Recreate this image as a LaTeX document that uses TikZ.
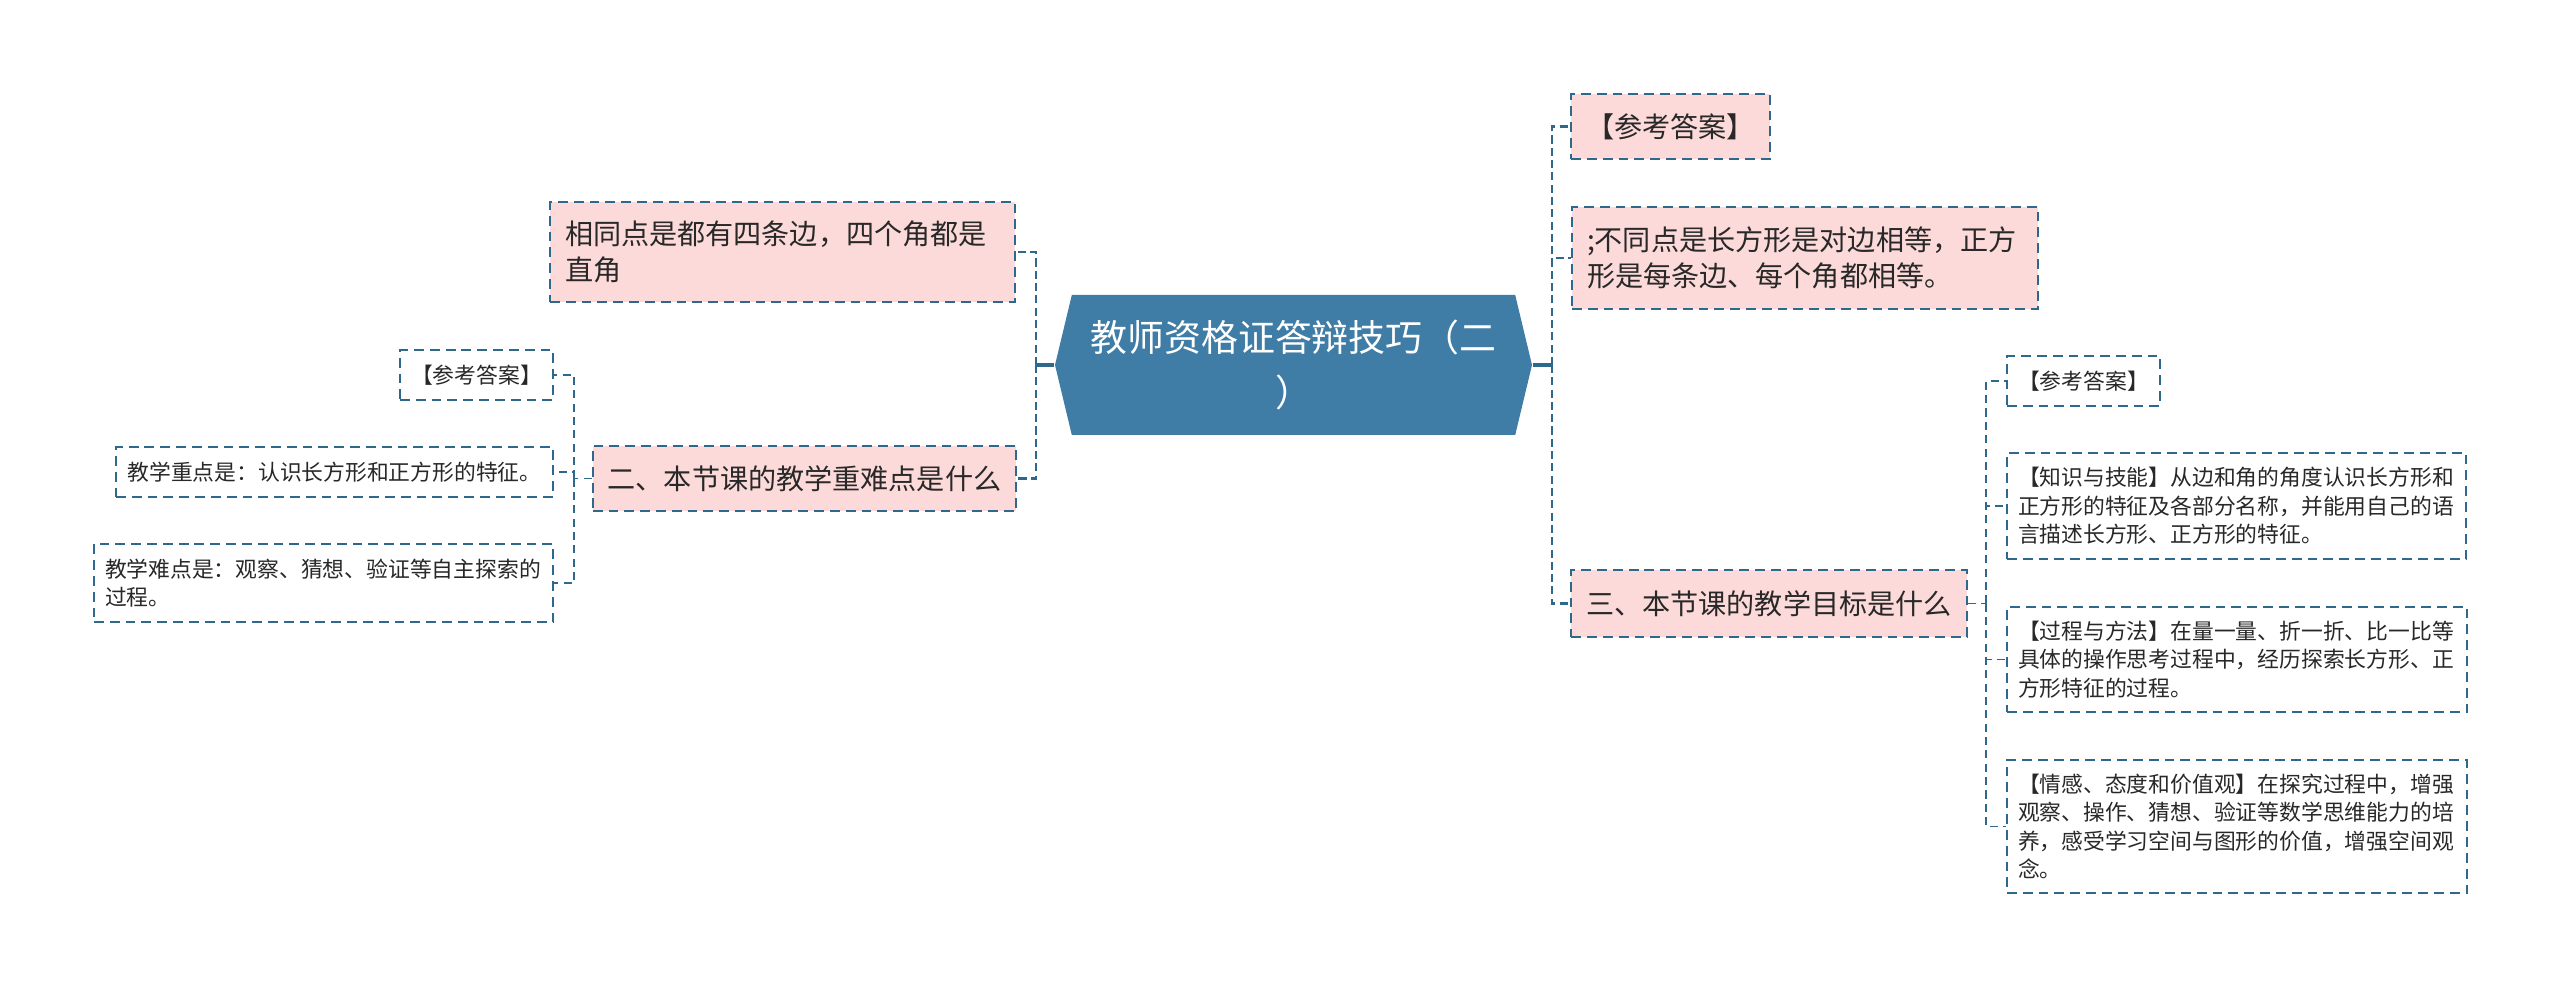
\documentclass[tikz,border=0pt]{standalone}
\usepackage{fontspec}
\newfontfamily\cjk{Noto Sans CJK SC}
\usetikzlibrary{positioning,calc,shapes.symbols}
\definecolor{rootblue}{RGB}{63,125,166}
\definecolor{pinkfill}{RGB}{252,218,218}
\definecolor{edgeblue}{RGB}{46,104,140}
\definecolor{inkgray}{RGB}{40,40,40}
\tikzset{
  rootnode/.style={signal, signal to=west and east, signal pointer angle=153,
      fill=rootblue, text=white, align=center, inner sep=0pt,
      minimum width=4.77cm, minimum height=1.4cm,
      font=\cjk\fontsize{10.5}{15.6}\selectfont},
  pbox/.style={draw=edgeblue, fill=pinkfill, line width=0.6pt,
      dash pattern=on 2.8pt off 1.7pt, text=inkgray, inner xsep=0.15cm,
      inner ysep=0pt, font=\cjk\fontsize{8}{10.4}\selectfont},
  wbox/.style={draw=edgeblue, fill=white, line width=0.55pt,
      dash pattern=on 2.8pt off 1.7pt, text=inkgray, inner xsep=0.11cm,
      inner ysep=0pt, font=\cjk\fontsize{6.2}{8.1}\selectfont},
  stub/.style={edgeblue, line width=0.9pt},
  trunk/.style={edgeblue, line width=0.8pt, dash pattern=on 2.3pt off 1.2pt},
  twig/.style={edgeblue, line width=0.55pt, dash pattern=on 2.3pt off 1.5pt},
}
\begin{document}
\begin{tikzpicture}[x=1cm, y=-1cm]
\useasboundingbox (0,0) rectangle (25.6,9.88);
%---- centre
\node[rootnode] (root) at (12.935,3.65) {教师资格证答辩技巧（二\\）};
%---- left branch
\node[pbox, text width=4.35cm, align=left, minimum height=1.0cm] (same) at (7.825,2.52)
  {相同点是都有四条边，四个角都是\\直角};
\node[pbox, minimum width=4.23cm, minimum height=0.65cm] (keypt) at (8.045,4.785)
  {二、本节课的教学重难点是什么};
\node[wbox, minimum width=1.53cm, minimum height=0.5cm] (ansL) at (4.765,3.75) {【参考答案】};
\node[wbox, minimum width=4.37cm, minimum height=0.5cm] (focus) at (3.345,4.72)
  {教学重点是：认识长方形和正方形的特征。};
\node[wbox, text width=4.37cm, align=left, minimum height=0.78cm] (hard) at (3.235,5.83)
  {教学难点是：观察、猜想、验证等自主探索的\\过程。};
\coordinate (tL) at (10.36,3.65);
\coordinate (tK) at (5.74,4.785);
\draw[stub] (root.west) -- (tL);
\draw[trunk] (tL) |- (same.east);
\draw[trunk] (tL) |- (keypt.east);
\draw[twig] (keypt.west) -- (tK);
\draw[twig] (tK) |- (ansL.east);
\draw[twig] (tK) |- (focus.east);
\draw[twig] (tK) |- (hard.east);
%---- right branch
\node[pbox, minimum width=1.97cm, minimum height=0.65cm] (ansR) at (16.705,1.265) {【参考答案】};
\node[pbox, text width=4.36cm, align=left, minimum height=1.02cm] (diff) at (18.05,2.58)
  {;不同点是长方形是对边相等，正方\\形是每条边、每个角都相等。};
\node[pbox, minimum width=3.94cm, minimum height=0.67cm] (goal) at (17.69,6.035)
  {三、本节课的教学目标是什么};
\node[wbox, minimum width=1.53cm, minimum height=0.5cm] (ansG) at (20.835,3.81) {【参考答案】};
\node[wbox, text width=4.37cm, align=left, minimum height=1.06cm] (skill) at (22.365,5.06)
  {【知识与技能】从边和角的角度认识长方形和\\正方形的特征及各部分名称，并能用自己的语\\言描述长方形、正方形的特征。};
\node[wbox, text width=4.38cm, align=left, minimum height=1.05cm] (method) at (22.37,6.595)
  {【过程与方法】在量一量、折一折、比一比等\\具体的操作思考过程中，经历探索长方形、正\\方形特征的过程。};
\node[wbox, text width=4.38cm, align=left, minimum height=1.33cm] (value) at (22.37,8.265)
  {【情感、态度和价值观】在探究过程中，增强\\观察、操作、猜想、验证等数学思维能力的培\\养，感受学习空间与图形的价值，增强空间观\\念。};
\coordinate (tR) at (15.52,3.65);
\coordinate (tG) at (19.86,6.035);
\draw[stub] (root.east) -- (tR);
\draw[trunk] (tR) |- (ansR.west);
\draw[trunk] (tR) |- (diff.west);
\draw[trunk] (tR) |- (goal.west);
\draw[twig] (goal.east) -- (tG);
\draw[twig] (tG) |- (ansG.west);
\draw[twig] (tG) |- (skill.west);
\draw[twig] (tG) |- (method.west);
\draw[twig] (tG) |- (value.west);
\end{tikzpicture}
\end{document}
